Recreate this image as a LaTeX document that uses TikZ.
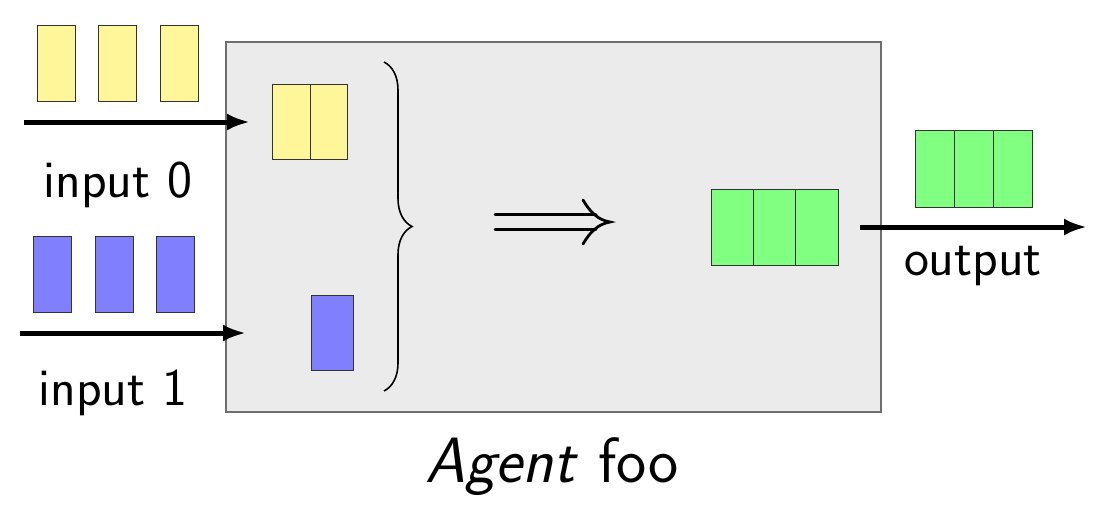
\documentclass[tikz,border=0pt]{standalone}
\usetikzlibrary{arrows.meta,decorations.pathreplacing}
\definecolor{cyellow}{RGB}{255,245,153}
\definecolor{cblue}{RGB}{128,128,255}
\definecolor{cgreen}{RGB}{128,255,128}
\definecolor{agentfill}{RGB}{235,235,235}
\definecolor{agentdraw}{RGB}{110,110,110}
\tikzset{
  cell/.style={draw=black!80, line width=0.5pt, inner sep=0pt, minimum width=19pt, minimum height=38pt},
  flow/.style={line width=2.5pt, -{Latex[length=11.5pt,width=8.5pt]}},
  lbl/.style={font=\sffamily\fontsize{26.5}{31}\selectfont, anchor=base, inner sep=0pt},
  implies/.style={line width=1.4pt, line cap=round},
}
\begin{document}
\begin{tikzpicture}[x=0.5pt,y=-0.5pt]
\useasboundingbox (0,0) rectangle (1098,504);
% agent box
\node[draw=agentdraw, fill=agentfill, line width=0.7pt, inner sep=0pt, minimum width=327.5pt, minimum height=185pt] (agent) at (553.5,227) {};
% input 0 tokens
\node[cell, fill=cyellow] (y1) at (56,63) {};
\node[cell, fill=cyellow] (y2) at (117,63) {};
\node[cell, fill=cyellow] (y3) at (179,63) {};
% input 1 tokens
\node[cell, fill=cblue] (b1) at (52,274) {};
\node[cell, fill=cblue] (b2) at (114,274) {};
\node[cell, fill=cblue] (b3) at (175,274) {};
% inner yellow
\node[cell, fill=cyellow, minimum width=18.75pt, minimum height=37.5pt] (iy1) at (291.5,121.5) {};
\node[cell, fill=cyellow, minimum width=18.75pt, minimum height=37.5pt] (iy2) at (329,121.5) {};
% inner blue
\node[cell, fill=cblue, minimum width=21pt, minimum height=37.5pt] (ib) at (332,332.5) {};
% inner green
\node[cell, fill=cgreen, minimum width=21.2pt] (ig1) at (732.2,227) {};
\node[cell, fill=cgreen, minimum width=21.2pt] (ig2) at (774.6,227) {};
\node[cell, fill=cgreen, minimum width=21.2pt] (ig3) at (817,227) {};
% outer green
\node[cell, fill=cgreen, minimum width=19.5pt, minimum height=38.5pt] (og1) at (934.5,168.5) {};
\node[cell, fill=cgreen, minimum width=19.5pt, minimum height=38.5pt] (og2) at (973.5,168.5) {};
\node[cell, fill=cgreen, minimum width=19.5pt, minimum height=38.5pt] (og3) at (1012.5,168.5) {};
% arrows
\coordinate (in0s) at (24,122);
\coordinate (in0e) at (250,122);
\coordinate (in1s) at (20,333);
\coordinate (in1e) at (246,333);
\coordinate (outs) at (860,227);
\coordinate (oute) at (1087,227);
\draw[flow] (in0s) -- (in0e);
\draw[flow] (in1s) -- (in1e);
\draw[flow] (outs) -- (oute);
% labels
\node[lbl] (l0) at (118,197) {input 0};
\node[lbl] (l1) at (113,405) {input 1};
\node[lbl] (lo) at (973,275) {output};
\node[lbl, font=\sffamily\fontsize{32}{38}\selectfont] (la) at (552,482) {\textit{Agent} foo};
% brace
\coordinate (bt) at (384,62);
\coordinate (bb) at (384,391);
\draw[line width=0.8pt, decoration={brace, amplitude=14pt}, decorate] (bt) -- (bb);
% implies symbol
\coordinate (imptip) at (610,222);
\draw[implies] (495,214.5) -- (596,214.5);
\draw[implies] (495,229.5) -- (596,229.5);
\draw[implies] (583,200) .. controls (590,212) and (598,220) .. (imptip) .. controls (598,224) and (590,232) .. (583,244);
\end{tikzpicture}
\end{document}
